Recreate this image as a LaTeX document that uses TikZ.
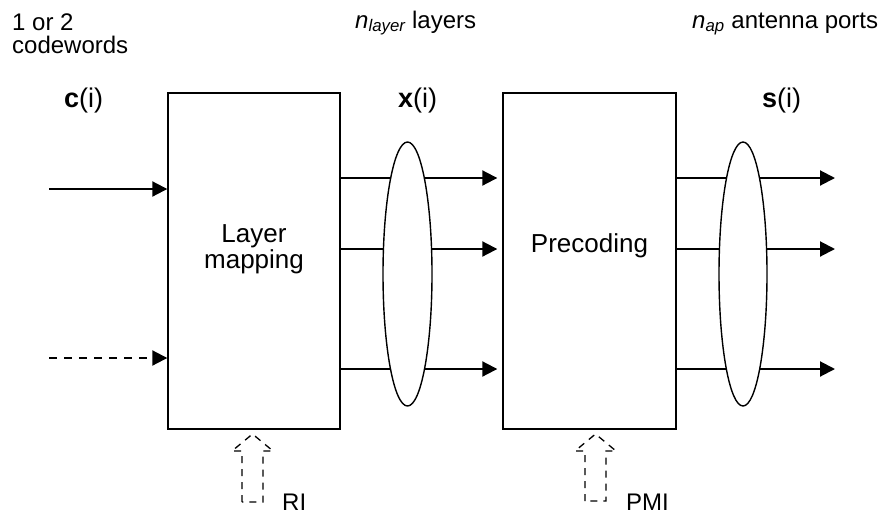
\documentclass[tikz,border=0pt]{standalone}
\usepackage{fontspec}
\setmainfont{Liberation Sans}
\usetikzlibrary{arrows.meta,shapes.geometric}

\tikzset{
  blk/.style={draw, line width=1.4pt, minimum width=172pt, minimum height=336pt, inner sep=0pt},
  bus/.style={draw, ellipse, fill=white, line width=1.4pt, minimum width=49pt, minimum height=264pt, inner sep=0pt},
  sig/.style={line width=2pt, -{Triangle[length=15pt,width=15pt]}},
  dsig/.style={sig, dash pattern=on 8pt off 7pt},
  ctrl/.style={draw, line width=1.3pt, dash pattern=on 7pt off 6pt},
  lbl/.style={inner sep=0pt, anchor=base west, font=\fontsize{24}{23}\selectfont, align=left},
  sym/.style={lbl, font=\fontsize{27}{27}\selectfont},
  mid/.style={inner sep=0pt, anchor=base, font=\fontsize{26}{26}\selectfont, align=center},
}

\begin{document}
\begin{tikzpicture}[x=1pt, y=-1pt]
  \useasboundingbox (0,0) rectangle (880,514);

  % processing blocks
  \node[blk] (lm) at (254,261) {};
  \node[blk, minimum width=173pt] (pc) at (589.5,261) {};
  \node[mid] (lmtxt) at (254,268) {Layer\\mapping};
  \node[mid] (pctxt) at (589.5,252) {Precoding};

  % codeword inputs
  \coordinate (in1) at (49,189);
  \coordinate (in2) at (49,358);
  \draw[sig]  (in1) -- (in1 -| lm.west);
  \draw[dsig] (in2) -- (in2 -| lm.west);

  % layers between the blocks
  \foreach \y [count=\k] in {178,249,369} {
    \coordinate (l\k) at (lm.east |- 0,\y);
    \draw[sig, shorten >=5pt] (l\k) -- (l\k -| pc.west);
  }

  % antenna port outputs
  \foreach \y [count=\k] in {178,249,369} {
    \coordinate (o\k) at (835,\y);
    \draw[sig] (pc.east |- o\k) -- (o\k);
  }

  % grouping ellipses
  \node[bus] (b1) at (407.5,274) {};
  \node[bus, minimum width=48pt] (b2) at (743,274) {};

  % control inputs
  \draw[ctrl] (242,502) -- (242,451) -- (232,451) -- (252.5,434) -- (273,451)
              -- (263,451) -- (263,502) -- cycle;
  \draw[ctrl] (585,501) -- (585,451) -- (575,451) -- (595.5,434) -- (616,451)
              -- (606,451) -- (606,501) -- cycle;

  % labels
  \node[lbl] (cw)  at (12,53) {1 or 2\\codewords};
  \node[lbl] (nl)  at (355,28) {\textit{n}\textsubscript{\itshape layer} layers};
  \node[lbl] (nap) at (692,28) {\textit{n}\textsubscript{\itshape ap} antenna ports};
  \node[sym] (ci)  at (64,107) {\textbf{c}(i)};
  \node[sym] (xi)  at (398,107) {\textbf{x}(i)};
  \node[sym] (si)  at (762,107) {\textbf{s}(i)};
  \node[lbl] (ri)  at (282,510) {RI};
  \node[lbl] (pmi) at (626,510) {PMI};
\end{tikzpicture}
\end{document}
